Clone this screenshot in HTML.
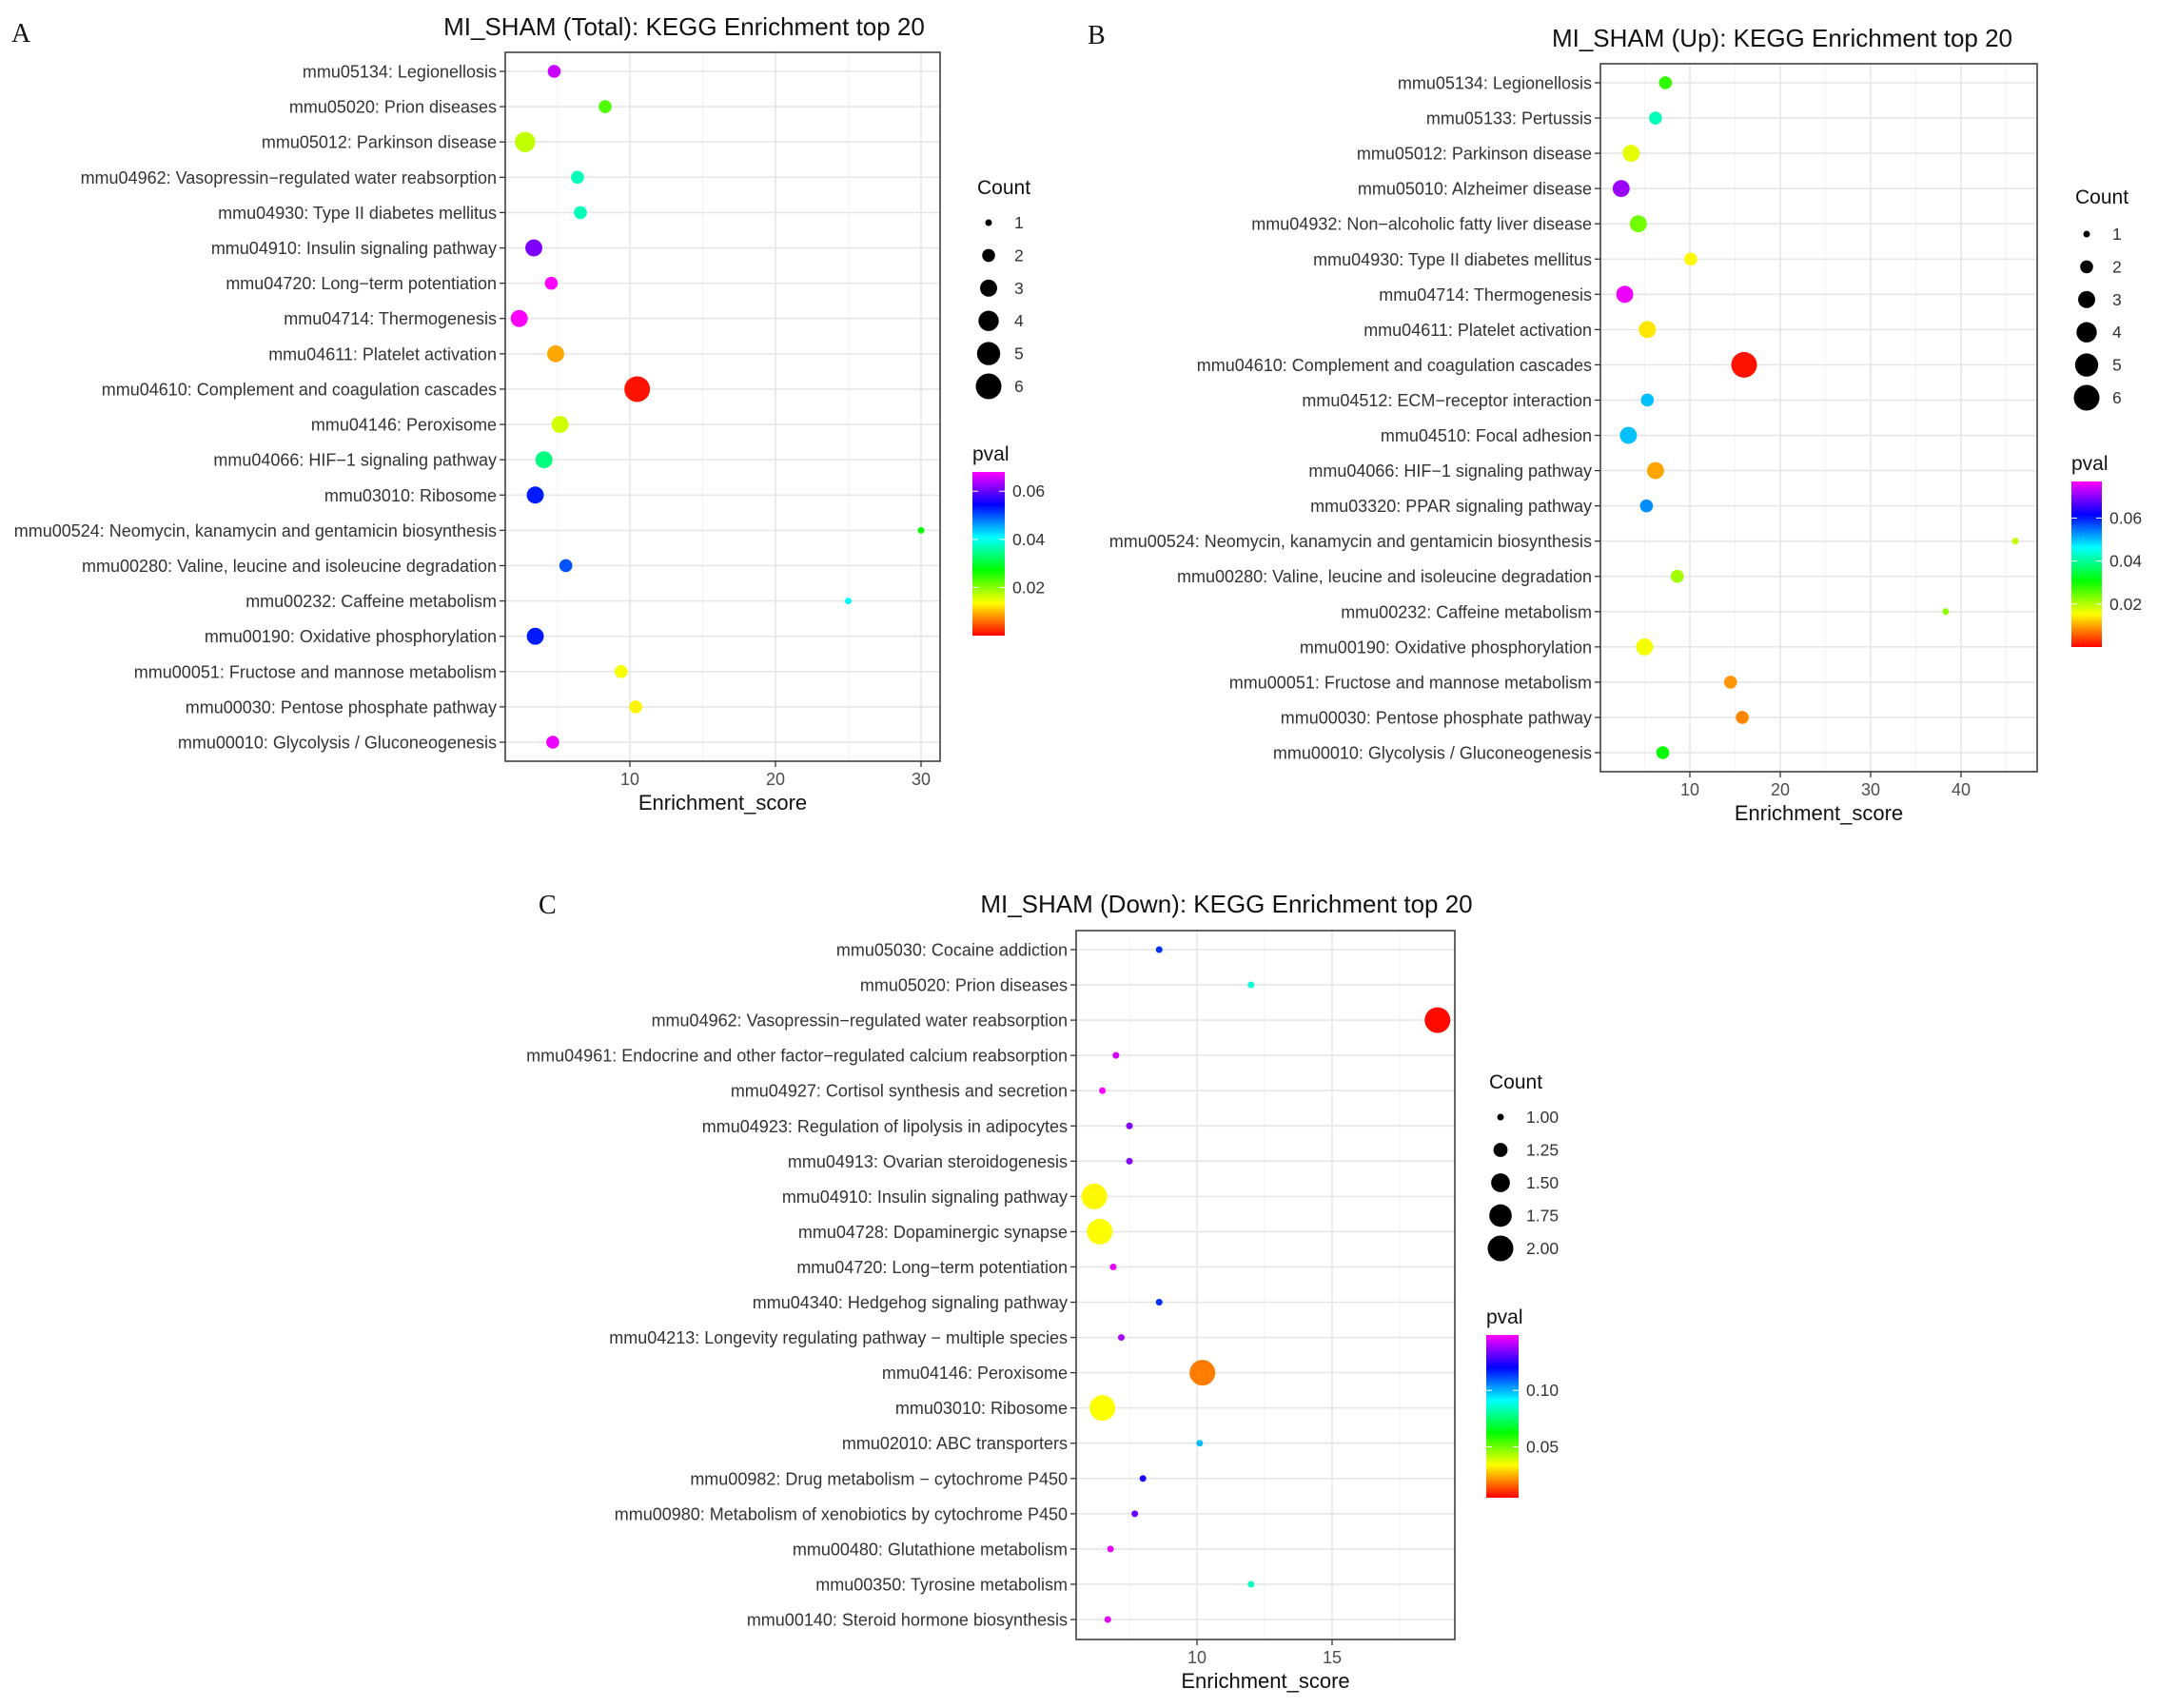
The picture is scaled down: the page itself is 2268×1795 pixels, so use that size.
<!DOCTYPE html>
<html><head><meta charset="utf-8"><style>
body{margin:0;background:#fff}
svg{display:block}
text{font-family:"Liberation Sans",sans-serif}
text.serif{font-family:"Liberation Serif",serif}
</style></head><body>
<svg id="fig" width="2268" height="1795" viewBox="0 0 2268 1795" xmlns="http://www.w3.org/2000/svg"></svg>
<script>
// ---------- Panel A data ----------
const aTerms = ["mmu05134: Legionellosis","mmu05020: Prion diseases","mmu05012: Parkinson disease","mmu04962: Vasopressin\u2212regulated water reabsorption","mmu04930: Type II diabetes mellitus","mmu04910: Insulin signaling pathway","mmu04720: Long\u2212term potentiation","mmu04714: Thermogenesis","mmu04611: Platelet activation","mmu04610: Complement and coagulation cascades","mmu04146: Peroxisome","mmu04066: HIF\u22121 signaling pathway","mmu03010: Ribosome","mmu00524: Neomycin, kanamycin and gentamicin biosynthesis","mmu00280: Valine, leucine and isoleucine degradation","mmu00232: Caffeine metabolism","mmu00190: Oxidative phosphorylation","mmu00051: Fructose and mannose metabolism","mmu00030: Pentose phosphate pathway","mmu00010: Glycolysis / Gluconeogenesis"];
const aScore = [4.8,8.3,2.8,6.4,6.6,3.4,4.6,2.4,4.9,10.5,5.2,4.1,3.5,30,5.6,25,3.5,9.4,10.4,4.7];
const aCount = [2,2,4,2,2,3,2,3,3,6,3,3,3,1,2,1,3,2,2,2];
const aPval = [0.065,0.023,0.017,0.037,0.037,0.061,0.068,0.068,0.009,0.001,0.016,0.034,0.053,0.027,0.05,0.041,0.053,0.014,0.013,0.067];
const aXTicks = [10,20,30];
const aCountTicks = ["1","2","3","4","5","6"];
const aPTicks = [0.06,0.04,0.02];

// ---------- Panel B data ----------
const bTerms = ["mmu05134: Legionellosis","mmu05133: Pertussis","mmu05012: Parkinson disease","mmu05010: Alzheimer disease","mmu04932: Non\u2212alcoholic fatty liver disease","mmu04930: Type II diabetes mellitus","mmu04714: Thermogenesis","mmu04611: Platelet activation","mmu04610: Complement and coagulation cascades","mmu04512: ECM\u2212receptor interaction","mmu04510: Focal adhesion","mmu04066: HIF\u22121 signaling pathway","mmu03320: PPAR signaling pathway","mmu00524: Neomycin, kanamycin and gentamicin biosynthesis","mmu00280: Valine, leucine and isoleucine degradation","mmu00232: Caffeine metabolism","mmu00190: Oxidative phosphorylation","mmu00051: Fructose and mannose metabolism","mmu00030: Pentose phosphate pathway","mmu00010: Glycolysis / Gluconeogenesis"];
const bScore = [7.3,6.2,3.5,2.4,4.3,10.1,2.8,5.3,16,5.3,3.2,6.2,5.2,46,8.6,38.3,5.0,14.5,15.8,7.0];
const bCount = [2,2,3,3,3,2,3,3,6,2,3,3,2,1,2,1,3,2,2,2];
const bPval = [0.028,0.042,0.017,0.071,0.024,0.015,0.076,0.014,0.001,0.05,0.05,0.01,0.053,0.019,0.021,0.022,0.016,0.009,0.008,0.031];
const bXTicks = [10,20,30,40];
const bCountTicks = ["1","2","3","4","5","6"];
const bPTicks = [0.06,0.04,0.02];

// ---------- Panel C data ----------
const cTerms = ["mmu05030: Cocaine addiction","mmu05020: Prion diseases","mmu04962: Vasopressin\u2212regulated water reabsorption","mmu04961: Endocrine and other factor\u2212regulated calcium reabsorption","mmu04927: Cortisol synthesis and secretion","mmu04923: Regulation of lipolysis in adipocytes","mmu04913: Ovarian steroidogenesis","mmu04910: Insulin signaling pathway","mmu04728: Dopaminergic synapse","mmu04720: Long\u2212term potentiation","mmu04340: Hedgehog signaling pathway","mmu04213: Longevity regulating pathway \u2212 multiple species","mmu04146: Peroxisome","mmu03010: Ribosome","mmu02010: ABC transporters","mmu00982: Drug metabolism \u2212 cytochrome P450","mmu00980: Metabolism of xenobiotics by cytochrome P450","mmu00480: Glutathione metabolism","mmu00350: Tyrosine metabolism","mmu00140: Steroid hormone biosynthesis"];
const cScore = [8.6,12.0,18.9,7.0,6.5,7.5,7.5,6.2,6.4,6.9,8.6,7.2,10.2,6.5,10.1,8.0,7.7,6.8,12.0,6.7];
const cCount = [1,1,2,1,1,1,1,2,2,1,1,1,2,2,1,1,1,1,1,1];
const cPval = [0.115,0.087,0.006,0.144,0.149,0.135,0.135,0.033,0.034,0.146,0.115,0.139,0.019,0.034,0.099,0.123,0.132,0.146,0.084,0.146];
const cXTicks = [10,15];
const cCountTicks = ["1.00","1.25","1.50","1.75","2.00"];
const cPTicks = [0.10,0.05];

const NS = "http://www.w3.org/2000/svg";
const svg = document.getElementById('fig');
function mk(tag, attrs, parent, txt){
  const e = document.createElementNS(NS, tag);
  for (const k in attrs) e.setAttribute(k, attrs[k]);
  if (txt !== undefined) e.textContent = txt;
  (parent || svg).appendChild(e);
  return e;
}
function hueColor(p, pmin, pmax){
  let f = (p - pmin) / (pmax - pmin); f = Math.max(0, Math.min(1, f));
  return "hsl(" + (f * 300).toFixed(1) + ",100%,50%)";
}
function rad(c, cmin, cmax, rmin, rmax){
  const f = cmax === cmin ? 0 : (c - cmin) / (cmax - cmin);
  return Math.sqrt(rmin*rmin + f*(rmax*rmax - rmin*rmin));
}

let gradId = 0;
function panel(cfg, terms, score, count, pval, xticks, countTicks, pticks){
  const g = mk('g', {});
  
  
  const L = cfg.left, R = cfg.right, T = cfg.top, B = cfg.bottom;
  const sx = v => cfg.x0px + (v - cfg.x0) * cfg.pxPer;
  const n = terms.length;
  const sy = i => cfg.row1 + i * (cfg.rowN - cfg.row1) / (n - 1);

  const lt = mk('text', {x: cfg.letter[0], y: cfg.letter[1], 'font-size': 28, 'class': 'serif', fill: '#111'}, g, cfg.letterTxt);
  
  
  const tt = mk('text', {x: cfg.title[0], y: cfg.title[1], 'font-size': 26, 'text-anchor': 'middle', fill: '#111'}, g, cfg.titleTxt);
  
  

  const grid = mk('g', {}, g);
  
  
  cfg.minor.forEach(v => { const X = sx(v); if (X > L && X < R) mk('line', {x1: X, x2: X, y1: T, y2: B, stroke: '#f3f3f3', 'stroke-width': 1}, grid); });
  xticks.forEach(v => { const X = sx(v); mk('line', {x1: X, x2: X, y1: T, y2: B, stroke: '#e6e6e6', 'stroke-width': 1.6}, grid); });
  for (let i = 0; i < n; i++) mk('line', {x1: L, x2: R, y1: sy(i), y2: sy(i), stroke: '#e6e6e6', 'stroke-width': 1.6}, grid);

  for (let i = 0; i < n; i++){
    mk('line', {x1: L - 6, x2: L, y1: sy(i), y2: sy(i), stroke: '#333', 'stroke-width': 1.3}, g);
    const t = mk('text', {x: L - 9, y: sy(i) + 6.5, 'font-size': 18, 'text-anchor': 'end', fill: '#333'}, g, terms[i]);
    
    
  }
  xticks.forEach(v => {
    const X = sx(v);
    mk('line', {x1: X, x2: X, y1: B, y2: B + 6, stroke: '#333', 'stroke-width': 1.3}, g);
    const t = mk('text', {x: X, y: B + 25, 'font-size': 18, 'text-anchor': 'middle', fill: '#4d4d4d'}, g, String(v));
    
    
  });
  const xt = mk('text', {x: (L + R) / 2, y: B + 51, 'font-size': 22, 'text-anchor': 'middle', fill: '#111'}, g, 'Enrichment_score');
  
  

  const cmin = Math.min(...count), cmax = Math.max(...count);
  for (let i = 0; i < n; i++){
    const c = mk('circle', {cx: sx(score[i]), cy: sy(i), r: rad(count[i], cmin, cmax, cfg.rmin, cfg.rmax), fill: hueColor(pval[i], cfg.pmin, cfg.pmax)}, g);
    
    
  }
  const bd = mk('rect', {x: L, y: T, width: R - L, height: B - T, fill: 'none', stroke: '#333', 'stroke-width': 1.5}, g);
  
  

  const lg = mk('g', {}, g);
  
  
  mk('text', {x: cfg.leg.x - 12, y: cfg.leg.titleY, 'font-size': 21, fill: '#111'}, lg, 'Count');
  const nc = countTicks.length;
  countTicks.forEach((lab, k) => {
    const v = parseFloat(lab);
    const y = cfg.leg.y1 + k * (cfg.leg.yN - cfg.leg.y1) / (nc - 1);
    const d = mk('circle', {cx: cfg.leg.x, cy: y, r: rad(v, cmin, cmax, cfg.rmin, cfg.rmax), fill: '#000'}, lg);
    
    
    mk('text', {x: cfg.leg.x + 27, y: y + 6, 'font-size': 17.5, fill: '#333'}, lg, lab);
  });

  const cb = mk('g', {}, g);
  
  
  const id = 'grad' + (gradId++);
  const gr = mk('linearGradient', {id: id, x1: 0, y1: 1, x2: 0, y2: 0}, cb);
  [0, 0.2, 0.4, 0.6, 0.8, 1].forEach(f => mk('stop', {offset: f, 'stop-color': 'hsl(' + (f * 300) + ',100%,50%)'}, gr));
  const cbY = p => cfg.cb.bottom - (p - cfg.pmin) / (cfg.pmax - cfg.pmin) * (cfg.cb.bottom - cfg.cb.top);
  mk('text', {x: cfg.cb.x, y: cfg.cb.top - 12, 'font-size': 21, fill: '#111'}, cb, 'pval');
  mk('rect', {x: cfg.cb.x, y: cfg.cb.top, width: cfg.cb.w, height: cfg.cb.bottom - cfg.cb.top, fill: 'url(#' + id + ')'}, cb);
  pticks.forEach(p => {
    const y = cbY(p);
    mk('line', {x1: cfg.cb.x, x2: cfg.cb.x + 6, y1: y, y2: y, stroke: '#fff', 'stroke-width': 1}, cb);
    mk('line', {x1: cfg.cb.x + cfg.cb.w - 6, x2: cfg.cb.x + cfg.cb.w, y1: y, y2: y, stroke: '#fff', 'stroke-width': 1}, cb);
    mk('text', {x: cfg.cb.x + cfg.cb.w + 8, y: y + 6, 'font-size': 17.5, fill: '#333'}, cb, p.toFixed(2));
  });
}

panel({name: 'panel-a-total', letterTxt: 'A', letter: [12, 44], titleTxt: 'MI_SHAM (Total): KEGG Enrichment top 20', title: [719, 37],
  left: 531, right: 988, top: 55, bottom: 800, row1: 75, rowN: 780,
  x0: 10, x0px: 662, pxPer: 15.3, minor: [5, 15, 25],
  rmin: 3.5, rmax: 13.5, pmin: 0, pmax: 0.068,
  leg: {x: 1039, titleY: 204, y1: 234, yN: 406},
  cb: {x: 1022, w: 34, top: 496, bottom: 668}
}, aTerms, aScore, aCount, aPval, aXTicks, aCountTicks, aPTicks);

panel({name: 'panel-b-up', letterTxt: 'B', letter: [1143, 46], titleTxt: 'MI_SHAM (Up): KEGG Enrichment top 20', title: [1873, 49],
  left: 1682, right: 2141, top: 67, bottom: 811, row1: 87, rowN: 791,
  x0: 10, x0px: 1776, pxPer: 9.5, minor: [5, 15, 25, 35, 45],
  rmin: 3.5, rmax: 13.5, pmin: 0, pmax: 0.077,
  leg: {x: 2193, titleY: 214, y1: 246, yN: 418},
  cb: {x: 2177, w: 32, top: 506, bottom: 680}
}, bTerms, bScore, bCount, bPval, bXTicks, bCountTicks, bPTicks);

panel({name: 'panel-c-down', letterTxt: 'C', letter: [566, 960], titleTxt: 'MI_SHAM (Down): KEGG Enrichment top 20', title: [1289, 959],
  left: 1131, right: 1529, top: 978, bottom: 1723, row1: 998, rowN: 1702,
  x0: 10, x0px: 1258, pxPer: 28.4, minor: [7.5, 12.5, 17.5],
  rmin: 3.5, rmax: 13.5, pmin: 0.005, pmax: 0.149,
  leg: {x: 1577, titleY: 1144, y1: 1174, yN: 1312},
  cb: {x: 1562, w: 34, top: 1403, bottom: 1574}
}, cTerms, cScore, cCount, cPval, cXTicks, cCountTicks, cPTicks);
</script>
</body></html>
